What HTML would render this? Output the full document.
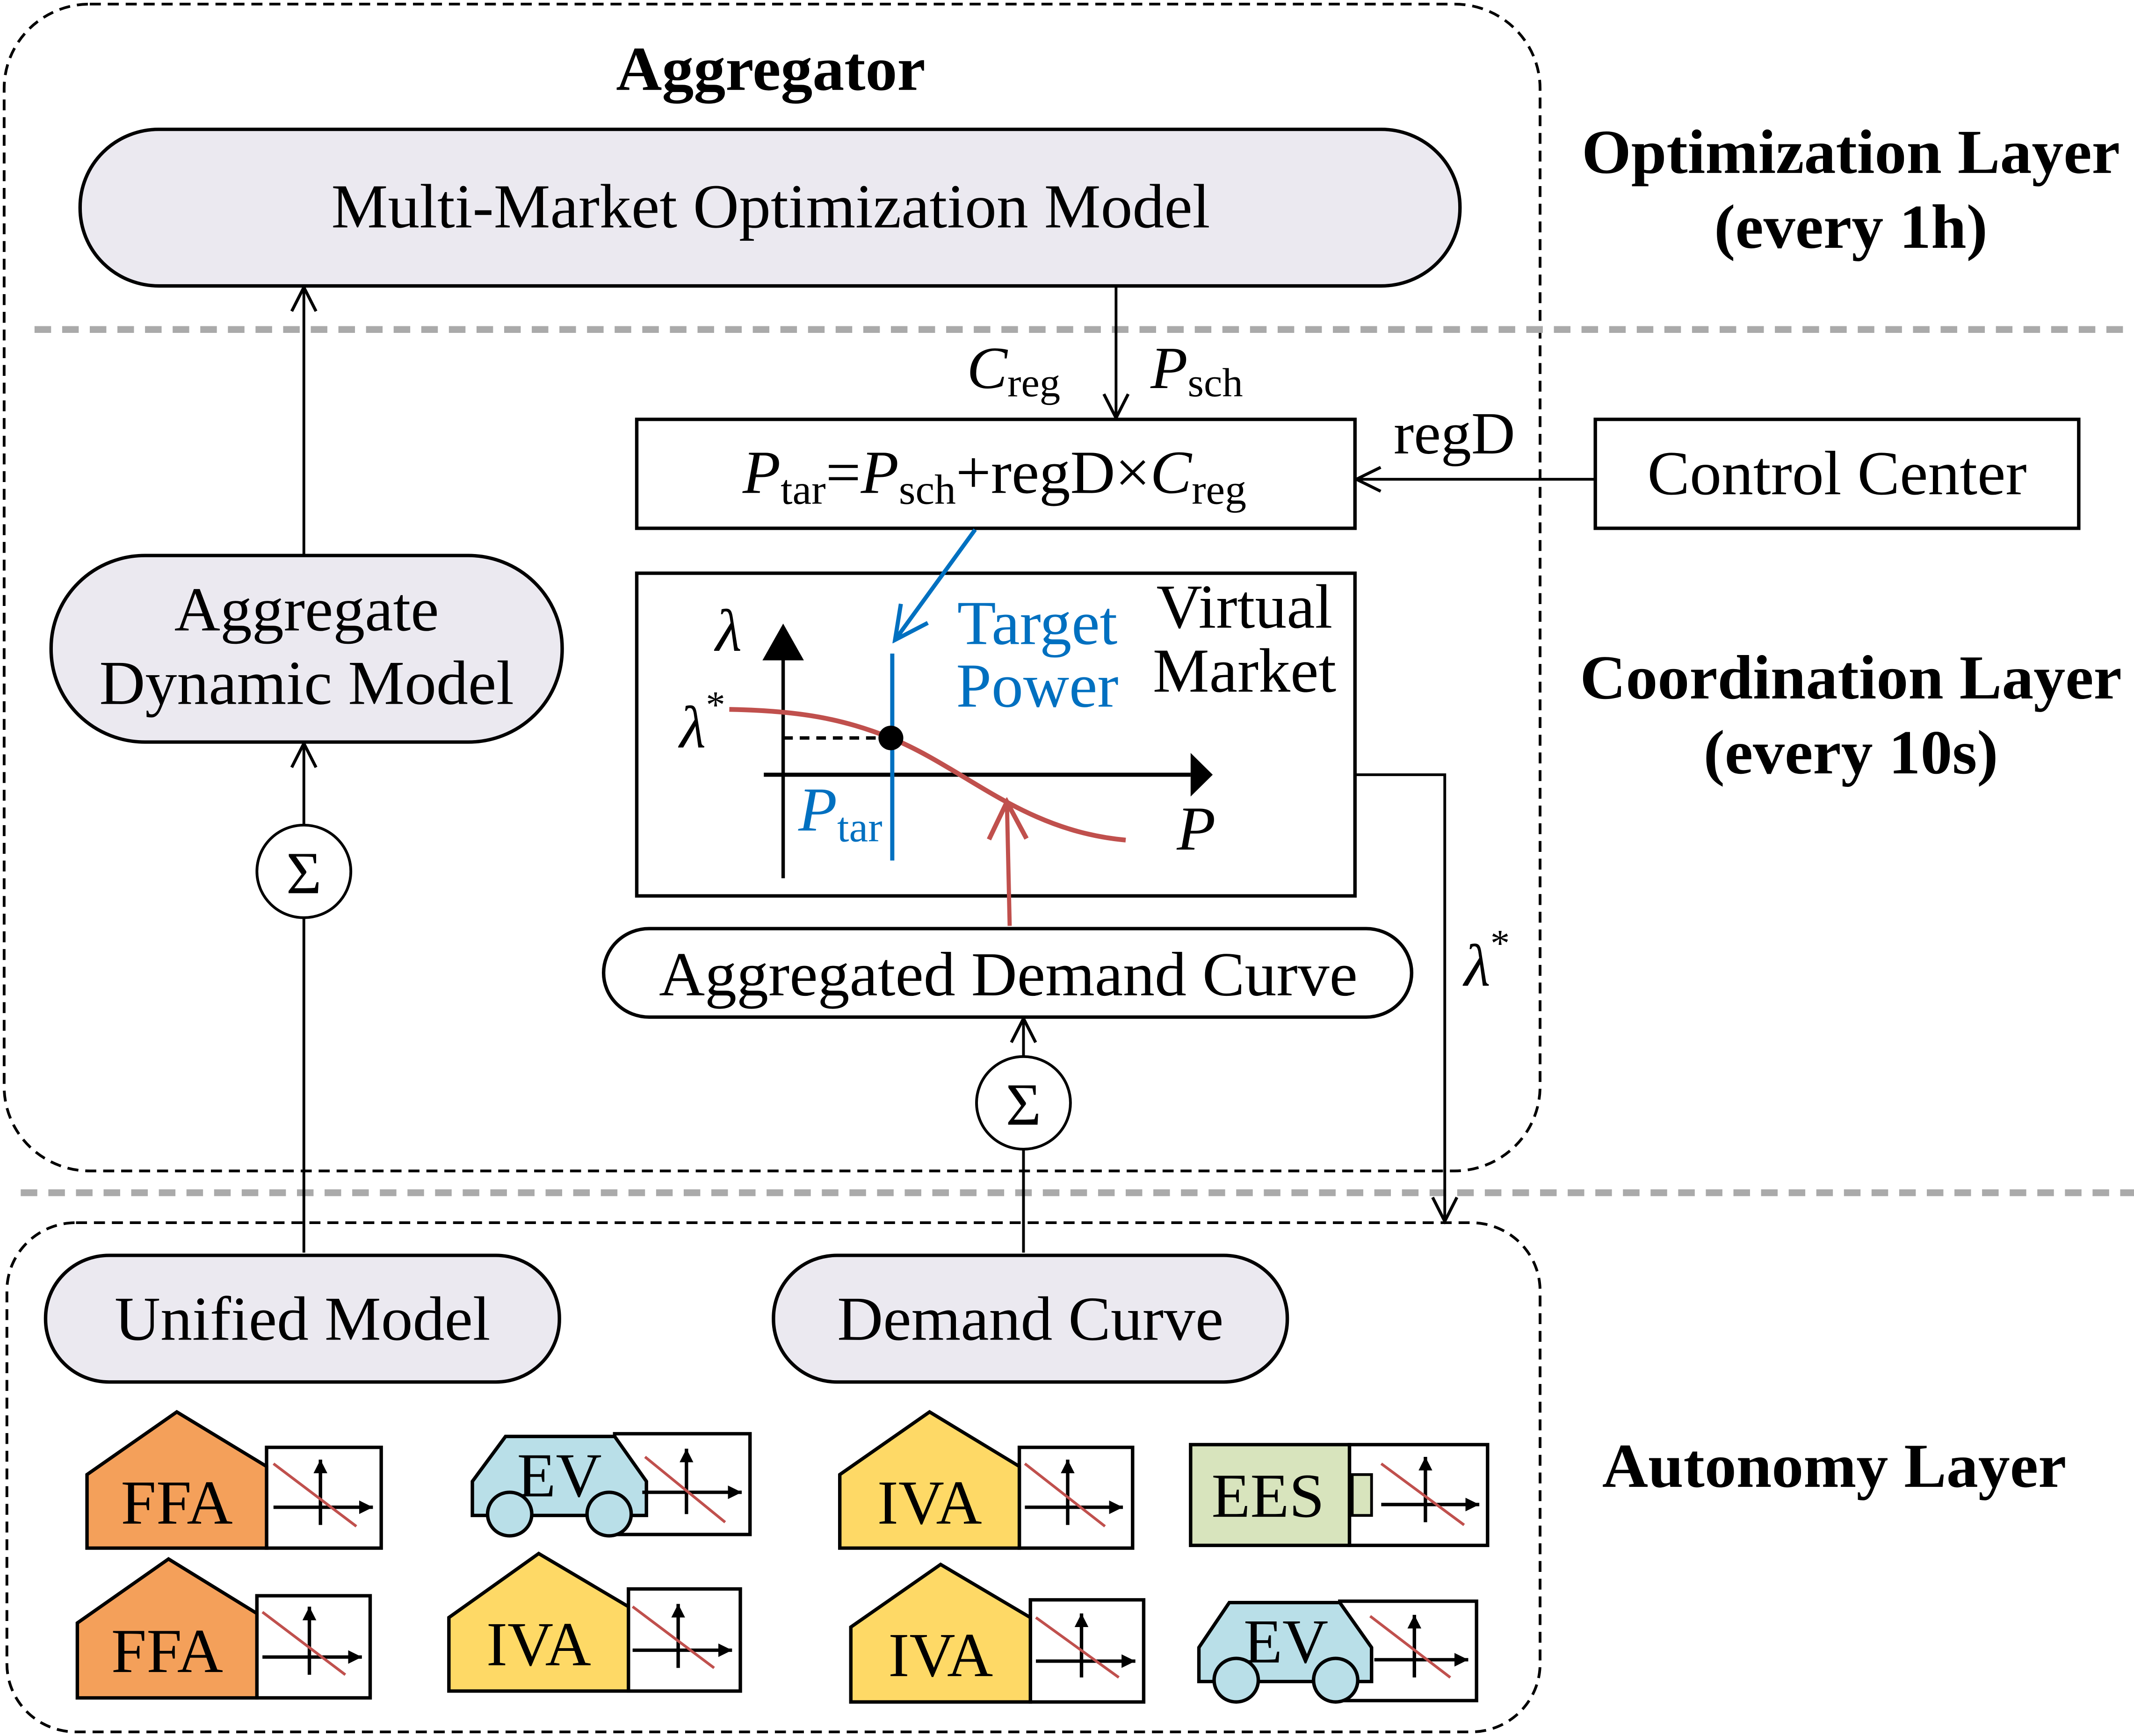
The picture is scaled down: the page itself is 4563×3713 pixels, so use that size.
<!DOCTYPE html>
<html><head><meta charset="utf-8"><style>
html,body{margin:0;padding:0;background:#fff;}
svg{display:block;}
text{font-family:"Liberation Serif",serif;}
</style></head><body>
<svg width="4563" height="3713" viewBox="0 0 1545 1275" preserveAspectRatio="none" xmlns="http://www.w3.org/2000/svg">
<defs>
<marker id="oa" viewBox="0 0 20 20" refX="18" refY="10" markerWidth="22" markerHeight="22" markerUnits="userSpaceOnUse" orient="auto"><path d="M2,2 L18,10 L2,18" fill="none" stroke="#000" stroke-width="2"/></marker>
<marker id="ob" viewBox="0 0 20 20" refX="18" refY="10" markerWidth="30" markerHeight="30" markerUnits="userSpaceOnUse" orient="auto"><path d="M2,2 L18,10 L2,18" fill="none" stroke="#0070c0" stroke-width="2"/></marker>
<marker id="or" viewBox="0 0 20 20" refX="18" refY="10" markerWidth="34" markerHeight="34" markerUnits="userSpaceOnUse" orient="auto"><path d="M2,2 L18,10 L2,18" fill="none" stroke="#c0504d" stroke-width="2"/></marker>
<marker id="fa" viewBox="0 0 10 10" refX="10" refY="5" markerWidth="10" markerHeight="10" markerUnits="userSpaceOnUse" orient="auto"><path d="M0,0 L10,5 L0,10 Z" fill="#000"/></marker>
</defs>
<rect x="3" y="3" width="1112" height="857" rx="62" fill="none" stroke="#000" stroke-width="2" stroke-dasharray="8,5"/>
<rect x="5" y="898" width="1110" height="374" rx="50" fill="none" stroke="#000" stroke-width="2" stroke-dasharray="8,5"/>
<line x1="25" y1="242" x2="1545" y2="242" stroke="#aaa" stroke-width="5" stroke-dasharray="12,8"/>
<line x1="15" y1="876" x2="1545" y2="876" stroke="#aaa" stroke-width="5" stroke-dasharray="12,8"/>

<text x="558" y="66" font-size="46" font-weight="bold" text-anchor="middle">Aggregator</text>
<rect x="58" y="95" width="999" height="115" rx="57" fill="#ebe9f0" stroke="#000" stroke-width="2.5"/>
<text x="558" y="167" font-size="46" text-anchor="middle">Multi-Market Optimization Model</text>

<g font-size="46" font-weight="bold" text-anchor="middle">
<text x="1340" y="127">Optimization Layer</text><text x="1340" y="182">(every 1h)</text>
<text x="1340" y="513">Coordination Layer</text><text x="1340" y="568">(every 10s)</text>
<text x="1328" y="1092">Autonomy Layer</text>
</g>

<rect x="37" y="408" width="370" height="137" rx="68" fill="#ebe9f0" stroke="#000" stroke-width="2.5"/>
<text x="222" y="463" font-size="46" text-anchor="middle">Aggregate</text>
<text x="222" y="517" font-size="46" text-anchor="middle">Dynamic Model</text>
<g stroke="#000" stroke-width="2" fill="none">
<line x1="220" y1="920" x2="220" y2="674"/>
<line x1="220" y1="606" x2="220" y2="546" marker-end="url(#oa)"/>
<line x1="220" y1="408" x2="220" y2="211" marker-end="url(#oa)"/>
<circle cx="220" cy="640" r="34" fill="#fff"/>
<line x1="808" y1="210" x2="808" y2="307" marker-end="url(#oa)"/>
<line x1="1155" y1="352" x2="982" y2="352" marker-end="url(#oa)"/>
<polyline points="981,569 1046,569 1046,897" marker-end="url(#oa)"/>
<line x1="741" y1="920" x2="741" y2="844"/>
<line x1="741" y1="776" x2="741" y2="748" marker-end="url(#oa)"/>
<circle cx="741" cy="810" r="34" fill="#fff"/>
</g>
<text x="220" y="656" font-size="44" text-anchor="middle">Σ</text>
<text x="741" y="826" font-size="44" text-anchor="middle">Σ</text>

<text x="700" y="285" font-size="44"><tspan font-style="italic">C</tspan><tspan font-size="30" dy="6">reg</tspan></text>
<text x="833" y="285" font-size="44"><tspan font-style="italic">P</tspan><tspan font-size="30" dy="6">sch</tspan></text>
<text x="1009" y="333" font-size="44">regD</text>

<rect x="461" y="308" width="520" height="80" fill="#fff" stroke="#000" stroke-width="2.5"/>
<text x="720" y="362" font-size="45" text-anchor="middle"><tspan font-style="italic">P</tspan><tspan font-size="31" dy="8">tar</tspan><tspan dy="-8">=</tspan><tspan font-style="italic">P</tspan><tspan font-size="31" dy="8">sch</tspan><tspan dy="-8">+regD×</tspan><tspan font-style="italic">C</tspan><tspan font-size="31" dy="8">reg</tspan></text>
<rect x="1155" y="308" width="350" height="80" fill="#fff" stroke="#000" stroke-width="2.5"/>
<text x="1330" y="363" font-size="46" text-anchor="middle">Control Center</text>

<rect x="461" y="421" width="520" height="237" fill="#fff" stroke="#000" stroke-width="2.5"/>
<line x1="706" y1="389" x2="648" y2="470" stroke="#0070c0" stroke-width="3" marker-end="url(#ob)"/>
<line x1="567" y1="645" x2="567" y2="480" stroke="#000" stroke-width="2.5"/>
<path d="M552,485 L567,458 L582,485 Z" fill="#000"/>
<line x1="553" y1="569" x2="862" y2="569" stroke="#000" stroke-width="3"/>
<path d="M862,553 L878,569 L862,585 Z" fill="#000"/>
<line x1="567" y1="542" x2="638" y2="542" stroke="#000" stroke-width="2.5" stroke-dasharray="7,5"/>
<line x1="646" y1="480" x2="646" y2="632" stroke="#0070c0" stroke-width="3"/>
<path d="M528,521 C580,522 610,528 645,542 C700,565 740,610 815,617" fill="none" stroke="#c0504d" stroke-width="3.5"/>
<circle cx="645" cy="542" r="9" fill="#000"/>
<line x1="731" y1="680" x2="729" y2="589" stroke="#c0504d" stroke-width="3" marker-end="url(#or)"/>
<text x="518" y="478" font-size="44" font-style="italic">λ</text>
<text x="492" y="549" font-size="44" font-style="italic">λ<tspan font-size="28" font-style="normal" dy="-22">*</tspan></text>
<text x="578" y="610" font-size="46" font-style="italic" fill="#0070c0">P<tspan font-size="31" font-style="normal" dy="8">tar</tspan></text>
<text x="751" y="473" font-size="46" fill="#0070c0" text-anchor="middle">Target</text>
<text x="751" y="519" font-size="46" fill="#0070c0" text-anchor="middle">Power</text>
<text x="901" y="461" font-size="46" text-anchor="middle">Virtual</text>
<text x="901" y="508" font-size="46" text-anchor="middle">Market</text>
<text x="852" y="624" font-size="46" font-style="italic">P</text>
<text x="1060" y="724" font-size="44" font-style="italic">λ<tspan font-size="28" font-style="normal" dy="-22">*</tspan></text>

<rect x="437" y="682" width="585" height="65" rx="33" fill="#fff" stroke="#000" stroke-width="2.5"/>
<text x="730" y="731" font-size="46" text-anchor="middle">Aggregated Demand Curve</text>

<rect x="33" y="922" width="372" height="93" rx="46" fill="#ebe9f0" stroke="#000" stroke-width="2.5"/>
<text x="219" y="984" font-size="46" text-anchor="middle">Unified Model</text>
<rect x="560" y="922" width="372" height="93" rx="46" fill="#ebe9f0" stroke="#000" stroke-width="2.5"/>
<text x="746" y="984" font-size="46" text-anchor="middle">Demand Curve</text>

<g stroke="#000" stroke-width="2.5">
<rect x="193" y="1063" width="83" height="74" fill="#fff"/>
<path d="M128,1037 L63,1083 L63,1137 L193,1137 L193,1077 Z" fill="#f4a05a"/>
<rect x="445" y="1053" width="98" height="74" fill="#fff"/>
<path d="M366,1055 L445,1055 L468,1088 L468,1113 L342,1113 L342,1088 Z" fill="#b9dfe8"/>
<circle cx="369" cy="1112" r="16" fill="#b9dfe8"/><circle cx="441" cy="1112" r="16" fill="#b9dfe8"/>
<rect x="738" y="1063" width="82" height="74" fill="#fff"/>
<path d="M673,1037 L608,1083 L608,1137 L738,1137 L738,1077 Z" fill="#fed966"/>
<rect x="977" y="1061" width="100" height="74" fill="#fff"/>
<rect x="862" y="1061" width="115" height="74" fill="#d8e4bd"/>
<rect x="979" y="1083" width="14" height="30" fill="#d8e4bd" stroke-width="2"/>
<rect x="186" y="1172" width="82" height="75" fill="#fff"/>
<path d="M122,1145 L56,1192 L56,1247 L186,1247 L186,1185 Z" fill="#f4a05a"/>
<rect x="455" y="1167" width="81" height="75" fill="#fff"/>
<path d="M390,1141 L325,1188 L325,1242 L455,1242 L455,1180 Z" fill="#fed966"/>
<rect x="746" y="1175" width="82" height="75" fill="#fff"/>
<path d="M681,1149 L616,1195 L616,1250 L746,1250 L746,1188 Z" fill="#fed966"/>
<rect x="970" y="1176" width="99" height="73" fill="#fff"/>
<path d="M890,1177 L970,1177 L993,1210 L993,1235 L868,1235 L868,1210 Z" fill="#b9dfe8"/>
<circle cx="895" cy="1234" r="16" fill="#b9dfe8"/><circle cx="967" cy="1234" r="16" fill="#b9dfe8"/>
</g>
<g font-size="46" text-anchor="middle">
<text x="128" y="1119">FFA</text><text x="405" y="1099">EV</text><text x="673" y="1119">IVA</text><text x="918" y="1114">EES</text>
<text x="121" y="1228">FFA</text><text x="390" y="1223">IVA</text><text x="681" y="1231">IVA</text><text x="931" y="1221">EV</text>
</g>
<g stroke-width="2.5" fill="none">
<g stroke="#000">
<line x1="232" y1="1120" x2="232" y2="1072" marker-end="url(#fa)"/><line x1="198" y1="1107" x2="270" y2="1107" marker-end="url(#fa)"/>
<line x1="497" y1="1112" x2="497" y2="1064" marker-end="url(#fa)"/><line x1="465" y1="1096" x2="537" y2="1096" marker-end="url(#fa)"/>
<line x1="773" y1="1120" x2="773" y2="1072" marker-end="url(#fa)"/><line x1="742" y1="1107" x2="813" y2="1107" marker-end="url(#fa)"/>
<line x1="1032" y1="1118" x2="1032" y2="1070" marker-end="url(#fa)"/><line x1="1000" y1="1105" x2="1071" y2="1105" marker-end="url(#fa)"/>
<line x1="224" y1="1230" x2="224" y2="1180" marker-end="url(#fa)"/><line x1="190" y1="1217" x2="262" y2="1217" marker-end="url(#fa)"/>
<line x1="491" y1="1225" x2="491" y2="1178" marker-end="url(#fa)"/><line x1="458" y1="1212" x2="530" y2="1212" marker-end="url(#fa)"/>
<line x1="783" y1="1232" x2="783" y2="1185" marker-end="url(#fa)"/><line x1="750" y1="1220" x2="822" y2="1220" marker-end="url(#fa)"/>
<line x1="1024" y1="1232" x2="1024" y2="1186" marker-end="url(#fa)"/><line x1="995" y1="1219" x2="1063" y2="1219" marker-end="url(#fa)"/>
</g>
<g stroke="#c0504d" stroke-width="2">
<line x1="198" y1="1075" x2="258" y2="1121"/><line x1="467" y1="1070" x2="525" y2="1118"/>
<line x1="742" y1="1075" x2="800" y2="1121"/><line x1="1000" y1="1075" x2="1060" y2="1120"/>
<line x1="190" y1="1184" x2="250" y2="1230"/><line x1="458" y1="1180" x2="517" y2="1225"/>
<line x1="750" y1="1188" x2="810" y2="1232"/><line x1="992" y1="1187" x2="1050" y2="1232"/>
</g>
</g>
</svg>
</body></html>
